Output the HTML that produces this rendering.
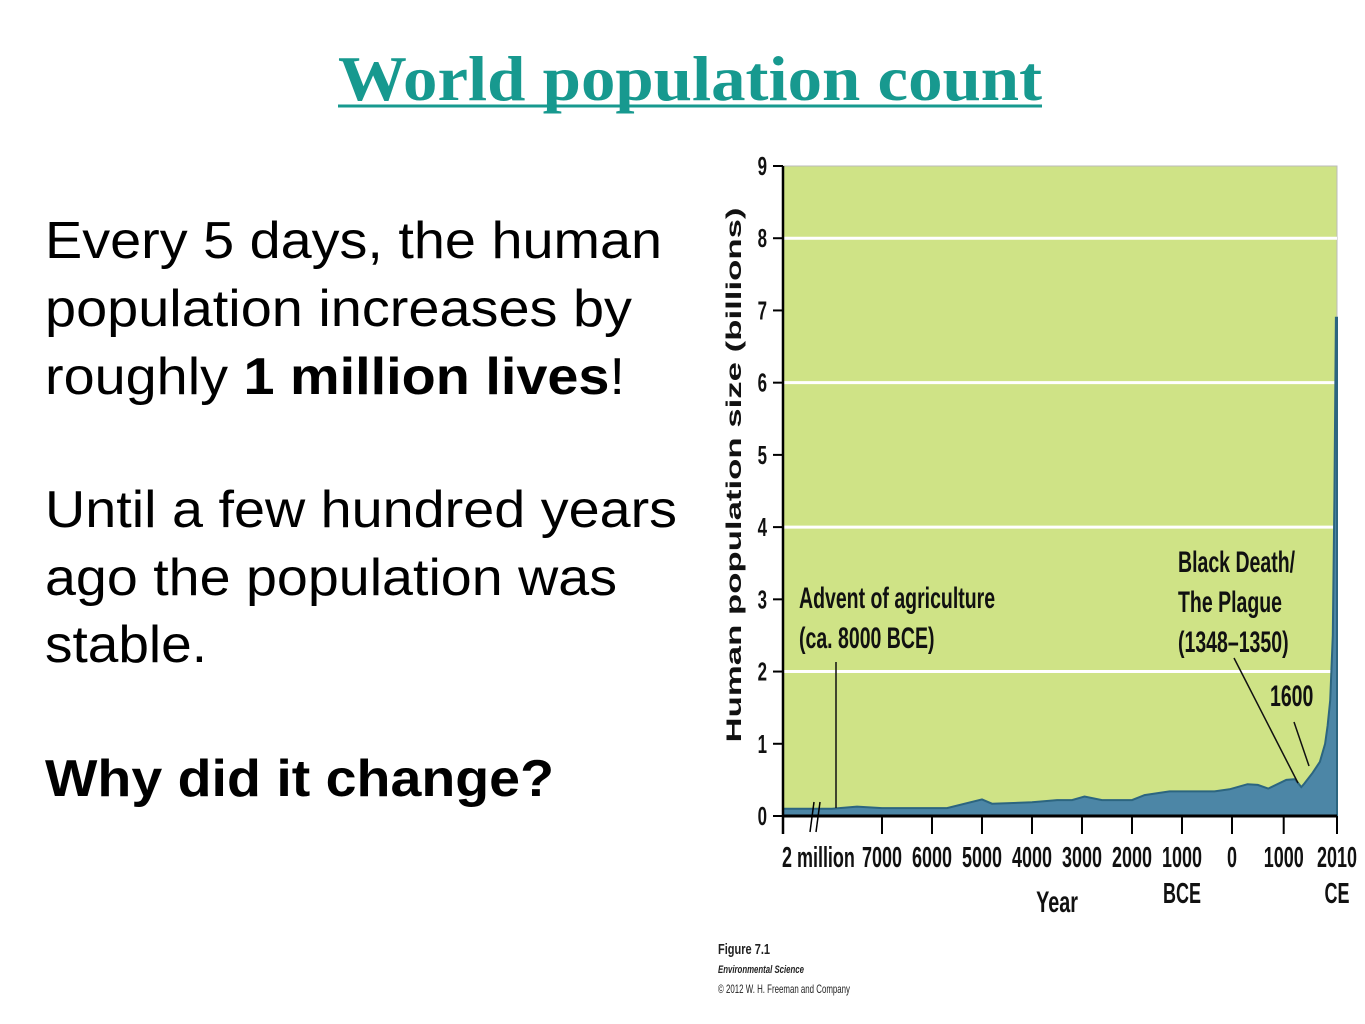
<!DOCTYPE html>
<html><head><meta charset="utf-8"><style>
html,body{margin:0;padding:0;background:#fff;width:1365px;height:1024px;overflow:hidden}
svg{display:block}
.n{font-family:"Liberation Sans",sans-serif;font-weight:bold}
</style></head><body>
<svg width="1365" height="1024">
<text x="338" y="100" textLength="704" lengthAdjust="spacingAndGlyphs" font-family="Liberation Serif,serif" font-weight="bold" font-size="64" fill="#17998f">World population count</text>
<line x1="338" y1="106" x2="1042" y2="106" stroke="#17998f" stroke-width="3"/>
<g font-family="Liberation Sans,Arial,sans-serif" font-size="52" fill="#000">
<text x="45" y="258" textLength="617" lengthAdjust="spacingAndGlyphs">Every 5 days, the human</text>
<text x="45" y="326" textLength="587" lengthAdjust="spacingAndGlyphs">population increases by</text>
<text x="45" y="394" textLength="580" lengthAdjust="spacingAndGlyphs">roughly <tspan font-weight="bold">1 million lives</tspan>!</text>
<text x="45" y="527" textLength="632" lengthAdjust="spacingAndGlyphs">Until a few hundred years</text>
<text x="45" y="595" textLength="572" lengthAdjust="spacingAndGlyphs">ago the population was</text>
<text x="45" y="662" textLength="162" lengthAdjust="spacingAndGlyphs">stable.</text>
<text x="45" y="796" font-weight="bold" textLength="509" lengthAdjust="spacingAndGlyphs">Why did it change?</text>
</g>
<g id="chart"></g>
<g font-family="Liberation Sans,sans-serif" fill="#222">
<text x="718" y="954" font-size="15" font-weight="bold" textLength="52" lengthAdjust="spacingAndGlyphs">Figure 7.1</text>
<text x="718" y="973" font-size="11" font-weight="bold" font-style="italic" textLength="86" lengthAdjust="spacingAndGlyphs">Environmental Science</text>
<text x="718" y="993" font-size="12" textLength="132" lengthAdjust="spacingAndGlyphs">© 2012 W. H. Freeman and Company</text>
</g>
</svg>
<script>
const years=[-2000000,-8000,-7500,-7000,-5700,-5000,-4800,-4000,-3500,-3200,-2950,-2600,-2000,-1750,-1250,-350,-50,300,500,700,1050,1220,1340,1400,1560,1700,1800,1850,1900,1950,1980,2010];
const pops=[0.1,0.1,0.13,0.11,0.11,0.23,0.17,0.19,0.22,0.22,0.27,0.22,0.22,0.29,0.34,0.34,0.37,0.44,0.43,0.38,0.5,0.51,0.4,0.45,0.6,0.75,1.0,1.25,1.6,2.5,4.4,6.9];
const yTicks=[0,1,2,3,4,5,6,7,8,9];
const gridVals=[2,4,6,8];
const xTickYears=[-2000000,-7000,-6000,-5000,-4000,-3000,-2000,-1000,0,1000,2010];
const xTickLabels=["2 million","7000","6000","5000","4000","3000","2000","1000","0","1000","2010"];
const NS="http://www.w3.org/2000/svg";
const L=783,R=1337,T=166,B=816;
function sx(yr){return yr>=-8000?1232+(yr)*(yr>0?0.0517:0.05):783+(yr+2000000)/(1992000)*48;}
function sy(v){return B-(v/9)*(B-T);}
const g=document.getElementById('chart');
function mk(tag,attrs,parent){const e=document.createElementNS(NS,tag);for(const k in attrs)e.setAttribute(k,attrs[k]);(parent||g).appendChild(e);return e;}
let bg=mk('rect',{x:L,y:T,width:R-L,height:B-T,fill:'#cfe386',stroke:'#bbb','stroke-width':1});


gridVals.forEach(v=>{const l=mk('line',{x1:L,x2:R,y1:sy(v),y2:sy(v),stroke:'#fff','stroke-width':3});

});
let d='M'+L+','+B;
years.forEach((yr,i)=>{d+=' L'+sx(yr).toFixed(1)+','+sy(pops[i]).toFixed(1);});
d+=' L'+R+','+sy(pops[pops.length-1]).toFixed(1)+' L'+R+','+B+' Z';
const area=mk('path',{d:d,fill:'#4c86a6',stroke:'#2c6580','stroke-width':2});


const ax=mk('line',{x1:L,x2:L,y1:T,y2:B+18,stroke:'#000','stroke-width':2.5});


const bx=mk('line',{x1:L,x2:R,y1:B,y2:B,stroke:'#000','stroke-width':3});


function ctext(x,y,s,size,scale,anchor){const t=mk('text',{x:0,y:0,'font-size':size,class:'n',fill:'#111','text-anchor':anchor||'start',transform:'translate('+x+','+y+') scale('+scale+',1)'});t.textContent=s;return t;}
yTicks.forEach(v=>{mk('line',{x1:L-10,x2:L,y1:sy(v),y2:sy(v),stroke:'#000','stroke-width':2});
const t=ctext(L-16,sy(v)+9,v,26,0.65,'end');

});
xTickYears.forEach((yr,i)=>{const x=yr===2010?R:sx(yr);mk('line',{x1:x,x2:x,y1:B,y2:B+18,stroke:'#000','stroke-width':2});
const t=ctext(i===0?x-1:x,B+51,xTickLabels[i],29,0.62,i===0?'start':'middle');

});
mk('line',{x1:810,x2:814,y1:832,y2:802,stroke:'#000','stroke-width':1.5});
mk('line',{x1:816,x2:820,y1:832,y2:802,stroke:'#000','stroke-width':1.5});
function txt(x,y,s,size,anchor,name,scale){const t=ctext(x,y,s,size,scale||0.72,anchor);

return t;}
txt(1057,912,'Year',30,'middle','x-axis-title',0.66);
txt(1182,903,'BCE',29,'middle','bce-label',0.62);
txt(1337,903,'CE',29,'middle','ce-label',0.62);
const yt=mk('text',{x:0,y:0,'font-size':21,'font-family':'Liberation Sans,sans-serif','font-weight':'bold','text-anchor':'middle',fill:'#111',transform:'translate(741,475) rotate(-90)',textLength:535,lengthAdjust:'spacingAndGlyphs'});
yt.textContent='Human population size (billions)';


txt(799,608,'Advent of agriculture',30,'start','agriculture-annotation',0.65);
txt(799,648,'(ca. 8000 BCE)',30,'start','agriculture-date',0.65);
mk('line',{x1:836,x2:836,y1:662,y2:808,stroke:'#111','stroke-width':1.5});
txt(1178,572,'Black Death/',30,'start','plague-annotation',0.65);
txt(1178,612,'The Plague',30,'start','plague-name',0.65);
txt(1178,652,'(1348–1350)',30,'start','plague-date',0.65);
mk('line',{x1:1234,x2:1298,y1:658,y2:783,stroke:'#111','stroke-width':1.5});
txt(1270,706,'1600',30,'start','1600-annotation',0.65);
mk('line',{x1:1294,x2:1309,y1:722,y2:766,stroke:'#111','stroke-width':1.5});
</script>
</body></html>
